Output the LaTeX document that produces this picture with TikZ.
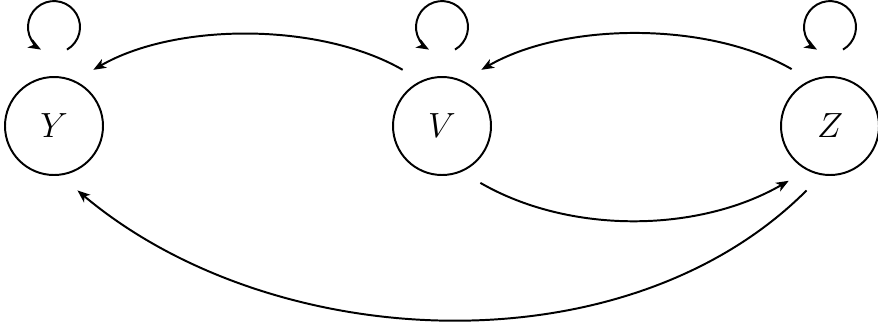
\documentclass[tikz,border=0pt]{standalone}
\usetikzlibrary{arrows.meta}
\begin{document}
\begin{tikzpicture}[>={Stealth[length=9pt, width=7pt, inset=2.5pt]}, line width=1.4pt,
    state/.style={draw, circle, minimum size=2.45cm, outer sep=0.49cm, font=\fontsize{23}{28}\selectfont}]
        \useasboundingbox (0,0) rectangle (21.95,8.1);

        % States
        \node[state] (Y) at (1.35,4.95) {$Y$};
        \node[state] (V) at (11.05,4.95) {$V$};
        \node[state] (Z) at (20.75,4.95) {$Z$};

        % Self loops
        \draw[->] ([shift={(0.325,1.91)}]Y.center) arc (-60:240:0.65);
        \draw[->] ([shift={(0.325,1.91)}]V.center) arc (-60:240:0.65);
        \draw[->] ([shift={(0.325,1.91)}]Z.center) arc (-60:240:0.65);

        % Transitions
        \draw[->] (V.125) to[out=150, in=30, looseness=0.79] (Y.55);
        \draw[->] (Z.124) to[out=150, in=30, looseness=0.79] (V.55);
        \draw[->] (V.-56) to[out=-30, in=210, looseness=0.86] (Z.233);
        \draw[->] (Z.-110) to[out=225, in=320, looseness=0.9] (Y.-70);
    \end{tikzpicture}
\end{document}
